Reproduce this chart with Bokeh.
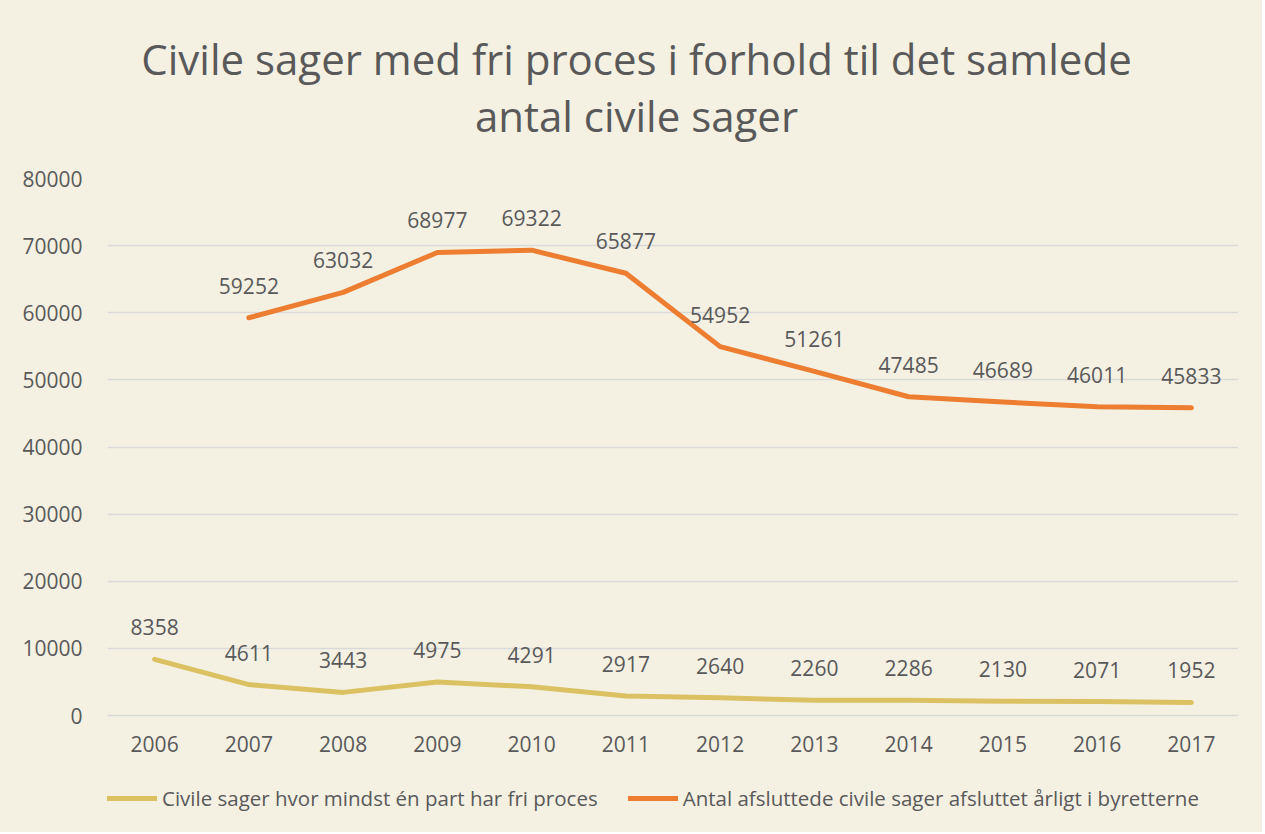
from bokeh.plotting import figure
from bokeh.models import (ColumnDataSource, FixedTicker, Legend, LegendItem, Range1d, Label)
from bokeh.layouts import column
from bokeh.core.properties import value
from bokeh.embed import file_html
from bokeh.resources import INLINE
import math

years = ["2006", "2007", "2008", "2009", "2010", "2011", "2012", "2013", "2014", "2015", "2016", "2017"]
fri_proces = [8358, 4611, 3443, 4975, 4291, 2917, 2640, 2260, 2286, 2130, 2071, 1952]
afsluttede = [float("nan"), 59252, 63032, 68977, 69322, 65877, 54952, 51261, 47485, 46689, 46011, 45833]
y_ticks = [0, 10000, 20000, 30000, 40000, 50000, 60000, 70000, 80000]

title_lines = ["Civile sager med fri proces i forhold til det samlede", "antal civile sager"]
legend_labels = ["Civile sager hvor mindst én part har fri proces",
                 "Antal afsluttede civile sager afsluttet årligt i byretterne"]

FONT = "Open Sans"
TXT = "#595959"
BG = "#F4F1E3"
ORANGE = "#ED7D31"
GOLD = "#DCC163"
W = 1262
LEFT, RIGHT = 107, 24


def bare_figure(h):
    f = figure(width=W, height=h, output_backend="svg", toolbar_location=None,
               x_axis_location=None, y_axis_location=None,
               x_range=Range1d(0, 1), y_range=Range1d(0, 1),
               min_border_left=LEFT, min_border_right=RIGHT,
               min_border_top=0, min_border_bottom=0)
    f.background_fill_color = None
    f.border_fill_color = BG
    f.outline_line_color = None
    f.grid.visible = False
    return f


# ---- title strip (frame starts at x=107, aligned with the chart) ----
tf = bare_figure(150)
for txt, yb in ((title_lines[0], 92), (title_lines[1], 35)):
    tf.add_layout(Label(x=529, y=yb, x_units="screen", y_units="screen", text=txt,
                        text_font=FONT, text_font_size="42px", text_color=TXT,
                        text_align="center", text_baseline="alphabetic"))

# ---- main chart ----
xs = list(range(len(years)))
src_a = ColumnDataSource(dict(x=xs, y=fri_proces, t=[str(v) for v in fri_proces]))
xb = [x for x, v in zip(xs, afsluttede) if not math.isnan(v)]
yb = [v for v in afsluttede if not math.isnan(v)]
src_b = ColumnDataSource(dict(x=xs, y=afsluttede))
src_bl = ColumnDataSource(dict(x=xb, y=yb, t=[str(int(v)) for v in yb]))

p = figure(width=W, height=615, output_backend="svg", toolbar_location=None,
           x_range=Range1d(-0.5, len(years) - 0.5), y_range=Range1d(0, 80000),
           min_border_left=LEFT, min_border_right=RIGHT, min_border_top=28, min_border_bottom=50)
p.background_fill_color = None
p.border_fill_color = BG
p.outline_line_color = None

p.xaxis.ticker = FixedTicker(ticks=xs)
p.xaxis.major_label_overrides = {i: y for i, y in enumerate(years)}
p.yaxis.ticker = FixedTicker(ticks=y_ticks)
for ax in (p.xaxis, p.yaxis):
    ax.major_label_text_font = FONT
    ax.major_label_text_font_size = "21px"
    ax.major_label_text_color = TXT
    ax.major_tick_line_color = None
    ax.minor_tick_line_color = None
p.yaxis.axis_line_color = None
p.xaxis.axis_line_color = "#D9D9D9"
p.xaxis.axis_line_width = 1.5
p.xaxis.major_label_standoff = 14
p.yaxis.major_label_standoff = 19
p.xgrid.grid_line_color = None
p.ygrid.ticker = FixedTicker(ticks=y_ticks)
p.ygrid.grid_line_color = "#D9D9D9"
p.ygrid.grid_line_width = 1.5

p.line("x", "y", source=src_a, line_color=GOLD, line_width=5, line_join="round", line_cap="round")
p.line("x", "y", source=src_b, line_color=ORANGE, line_width=5, line_join="round", line_cap="round")

for s in (src_a, src_bl):
    p.text("x", "y", text="t", source=s, text_font=value(FONT), text_font_size="21px",
           text_color=TXT, text_align="center", text_baseline="middle", y_offset=-32)

# ---- legend strip ----
lf = bare_figure(67)
# legend-only renderers, their points lie outside the strip's visible range
la = lf.line(x=[-5, -4], y=[-5, -5], line_color=GOLD, line_width=5, line_cap="round")
lb = lf.line(x=[-5, -4], y=[-5, -5], line_color=ORANGE, line_width=5, line_cap="round")
legend = Legend(items=[LegendItem(label=legend_labels[0], renderers=[la]),
                       LegendItem(label=legend_labels[1], renderers=[lb])],
                location=(0, 20), orientation="horizontal",
                label_text_font=FONT, label_text_font_size="20.5px", label_text_color=TXT,
                glyph_width=50, glyph_height=24, label_height=24, label_standoff=5, spacing=30,
                background_fill_alpha=0, border_line_color=None, padding=0, margin=0)
lf.add_layout(legend, "center")

layout = column(tf, p, lf, spacing=0, styles={"background-color": BG})
open("out.html", "w").write(file_html(layout, INLINE))
